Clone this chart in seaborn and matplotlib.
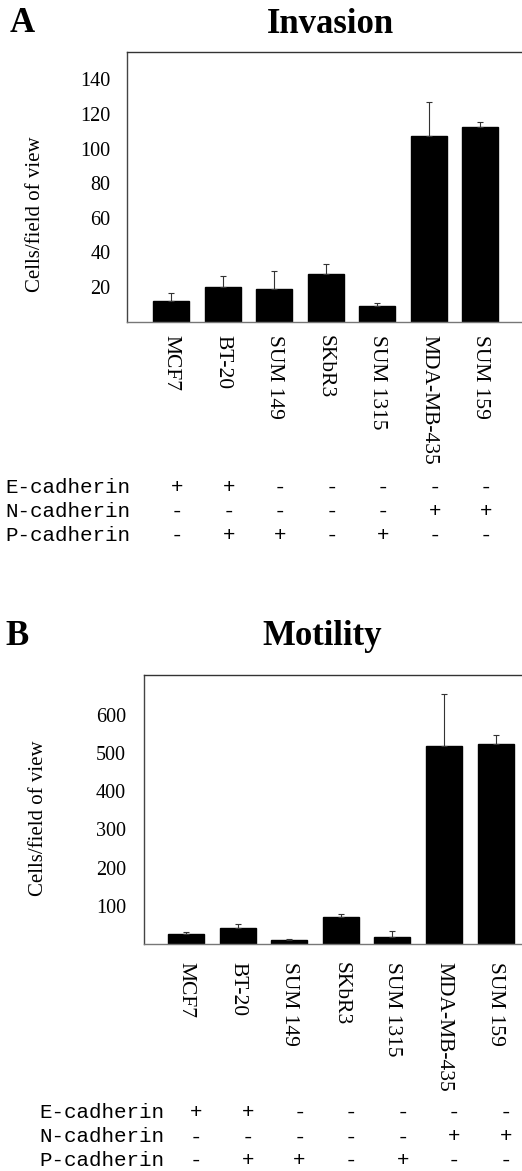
import matplotlib
matplotlib.use("Agg")
import matplotlib.pyplot as plt
import matplotlib.transforms as mtransforms
import seaborn as sns
import pandas as pd
import numpy as np

# ---------------- data ----------------
cell_lines = ["MCF7", "BT-20", "SUM 149", "SKbR3", "SUM 1315", "MDA-MB-435", "SUM 159"]
invasion_vals = [12, 20, 19, 27.5, 9, 107, 112.5]
invasion_err = [4.5, 6.5, 10, 5.5, 1.5, 20, 2.7]
motility_vals = [25, 41, 10, 71, 18, 519, 523]
motility_err = [6, 10.5, 2, 8, 15, 135, 23]
invasion_ticks = [20, 40, 60, 80, 100, 120, 140]
motility_ticks = [100, 200, 300, 400, 500, 600]
e_cadherin = ["+", "+", "-", "-", "-", "-", "-"]
n_cadherin = ["-", "-", "-", "-", "-", "+", "+"]
p_cadherin = ["-", "+", "+", "-", "+", "-", "-"]
row_names = ["E-cadherin", "N-cadherin", "P-cadherin"]

sns.set_style("white")
plt.rcParams['font.family'] = ['Liberation Serif', 'DejaVu Serif']
plt.rcParams['text.color'] = 'black'
plt.rcParams['axes.labelcolor'] = 'black'
plt.rcParams['xtick.color'] = 'black'
plt.rcParams['ytick.color'] = 'black'

W, H = 522, 1171
fig = plt.figure(figsize=(W / 100, H / 100), dpi=100)


def px_axes(left, top, right, bottom):
    return fig.add_axes([left / W, 1 - bottom / H, (right - left) / W, (bottom - top) / H])


def draw_panel(ax, vals, errs, ticks, ylim_top, xlim, tick_pad, ylab_xy, lab_pad):
    df = pd.DataFrame({"cell": cell_lines, "val": vals})
    sns.barplot(data=df, x="cell", y="val", color="black", width=0.7,
                errorbar=None, ax=ax, saturation=1, edgecolor="black")
    x = np.arange(len(vals))
    ax.errorbar(x, vals, yerr=[np.zeros(len(errs)), errs], fmt="none",
                ecolor="#333333", elinewidth=0.8, capsize=2.5, capthick=0.8)
    ax.set_xlim(*xlim)
    ax.set_ylim(0, ylim_top)
    ax.set_yticks(ticks)
    ax.set_yticklabels([str(t) for t in ticks], fontsize=14.5, color="black")
    ax.set_xticks(x)
    ax.set_xticklabels(cell_lines, rotation=-90, fontsize=15.5, va="top", ha="center",
                       color="black")
    ax.tick_params(axis="both", length=0)
    ax.tick_params(axis="y", pad=tick_pad)
    ax.tick_params(axis="x", pad=lab_pad)
    ax.set_xlabel("")
    ax.set_ylabel("Cells/field of view", fontsize=15, color="black")
    ax.yaxis.set_label_coords(*ylab_xy)
    for s in ["left", "top", "bottom"]:
        ax.spines[s].set_visible(True)
        ax.spines[s].set_linewidth(1.0)
    ax.spines["left"].set_color("#444444")
    ax.spines["top"].set_color("#333333")
    ax.spines["bottom"].set_color("#777777")
    ax.spines["right"].set_visible(False)
    ax.set_facecolor("white")


# Panel A
axA = px_axes(127, 52, 530, 321.6)
draw_panel(axA, invasion_vals, invasion_err, invasion_ticks, 155.8,
           (-0.855, 6.97), 12, (-0.2035, 0.399), 10)

# Panel B
axB = px_axes(144, 675, 530, 944)
draw_panel(axB, motility_vals, motility_err, motility_ticks, 704,
           (-0.814, 6.667), 13, (-0.249, 0.468), 13)

# Titles and panel letters
fig.text(330 / W, 1 - 33 / H, "Invasion", fontsize=25, fontweight="bold", ha="center", va="baseline")
fig.text(10 / W, 1 - 32 / H, "A", fontsize=25, fontweight="bold", ha="left", va="baseline")
fig.text(322 / W, 1 - 645 / H, "Motility", fontsize=25, fontweight="bold", ha="center", va="baseline")
fig.text(5 / W, 1 - 645 / H, "B", fontsize=25, fontweight="bold", ha="left", va="baseline")

# Cadherin tables
mono = ['Liberation Mono', 'DejaVu Sans Mono']
rows = [e_cadherin, n_cadherin, p_cadherin]


def draw_table(ax, label_x, row_ys, x_off):
    trans = mtransforms.blended_transform_factory(ax.transData, fig.transFigure)
    for name, row, y in zip(row_names, rows, row_ys):
        fig.text(label_x / W, 1 - y / H, name, family=mono, fontsize=15,
                 ha="left", va="center")
        for i, sym in enumerate(row):
            fig.text(i + x_off, 1 - y / H, sym, family=mono, fontsize=15,
                     ha="center", va="center", transform=trans)


draw_table(axA, 5, [487.7, 511.7, 535.7], 0.12)
draw_table(axB, 39, [1112, 1137, 1160], 0.2)

fig.savefig("out.png", dpi=100, facecolor="white")
